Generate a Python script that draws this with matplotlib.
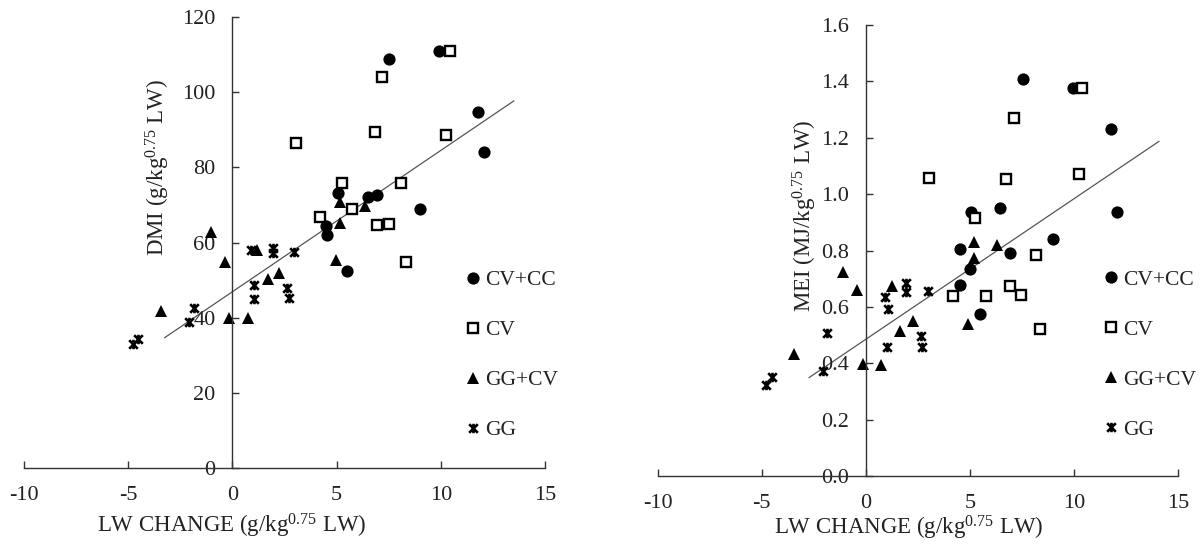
import numpy as np
import matplotlib
matplotlib.use("Agg")
import matplotlib.pyplot as plt
from matplotlib.path import Path

plt.rcParams['font.family'] = ['Liberation Serif', 'DejaVu Serif']
plt.rcParams['mathtext.fontset'] = 'custom'
plt.rcParams['mathtext.rm'] = 'Liberation Serif'
plt.rcParams['axes.unicode_minus'] = False

# ---- left panel: DMI vs LW change ----
dmi_cvcc_x = [7.5, 9.9, 11.8, 12.05, 9.0, 5.05, 6.5, 6.95, 4.55, 4.5, 5.5]
dmi_cvcc_y = [108.7, 111.0, 94.7, 84.0, 69.0, 73.2, 72.2, 72.7, 62.1, 64.3, 52.5]
dmi_cv_x = [10.45, 7.2, 6.85, 3.05, 10.25, 5.25, 8.1, 4.2, 5.75, 6.95, 7.5, 8.35]
dmi_cv_y = [111.0, 104.0, 89.3, 86.4, 88.5, 75.9, 75.9, 66.8, 68.8, 64.6, 64.9, 54.7]
dmi_ggcv_x = [-1.05, -0.35, -3.45, -0.15, 0.75, 1.2, 1.7, 2.25, 4.95, 5.15, 5.15, 6.35]
dmi_ggcv_y = [62.9, 54.9, 41.8, 39.8, 39.9, 58.0, 50.4, 51.8, 55.3, 65.2, 70.9, 69.8]
dmi_gg_x = [-4.75, -4.55, -2.1, -1.85, 0.9, 1.05, 1.05, 1.95, 1.95, 2.6, 2.7, 2.95]
dmi_gg_y = [32.9, 34.4, 38.9, 42.7, 58.0, 48.7, 44.9, 58.5, 57.3, 48.0, 45.1, 57.6]
dmi_trend = (3.76, 46.9)          # slope, intercept
dmi_trend_x = [-3.25, 13.5]

# ---- right panel: MEI vs LW change ----
mei_cvcc_x = [7.55, 9.95, 11.75, 12.05, 9.0, 6.45, 5.05, 4.5, 6.9, 5.0, 4.5, 5.5]
mei_cvcc_y = [1.41, 1.375, 1.23, 0.937, 0.841, 0.951, 0.935, 0.806, 0.792, 0.735, 0.677, 0.574]
mei_cv_x = [10.4, 7.1, 3.05, 6.75, 10.25, 5.25, 8.15, 4.2, 5.75, 6.9, 7.45, 8.35]
mei_cv_y = [1.375, 1.269, 1.056, 1.052, 1.071, 0.914, 0.783, 0.638, 0.638, 0.673, 0.641, 0.523]
mei_ggcv_x = [-1.1, -0.4, -3.45, -0.15, 0.75, 1.25, 1.65, 2.25, 4.9, 5.2, 5.2, 6.3]
mei_ggcv_y = [0.724, 0.659, 0.432, 0.399, 0.393, 0.673, 0.515, 0.55, 0.541, 0.831, 0.772, 0.819]
mei_gg_x = [-4.8, -4.5, -2.05, -1.85, 0.9, 1.05, 1.0, 1.95, 1.95, 2.65, 2.7, 3.0]
mei_gg_y = [0.322, 0.351, 0.372, 0.508, 0.636, 0.591, 0.456, 0.685, 0.653, 0.497, 0.456, 0.657]
mei_trend = (0.0499, 0.485)
mei_trend_x = [-2.72, 14.07]

series_names = ['CV+CC', 'CV', 'GG+CV', 'GG']
x_ticks = [-10, -5, 0, 5, 10, 15]

# excel style "star" marker: an X with a vertical stroke
star = Path([(-1, -1), (1, 1), (-1, 1), (1, -1), (0, -1.1), (0, 1.1)],
            [Path.MOVETO, Path.LINETO, Path.MOVETO, Path.LINETO, Path.MOVETO, Path.LINETO])

styles = [
    dict(marker='o', markersize=8.8, markerfacecolor='black', markeredgecolor='black', markeredgewidth=0),
    dict(marker='s', markersize=7.2, markerfacecolor='white', markeredgecolor='black', markeredgewidth=1.7),
    dict(marker='^', markersize=9.2, markerfacecolor='black', markeredgecolor='black', markeredgewidth=0),
    dict(marker=star, markersize=6.8, markerfacecolor='none', markeredgecolor='black', markeredgewidth=1.9),
]


def draw_panel(ax, groups, trend, trend_x, ylim, yticks, yfmt, ylabel, ylab_pos, xlab_pos, leg_pos):
    for (gx, gy), name, st in zip(groups, series_names, styles):
        ax.plot(gx, gy, linestyle='none', label=name, **st)
    tx = np.array(trend_x)
    ax.plot(tx, trend[0] * tx + trend[1], color='#555555', lw=0.9, zorder=1)

    ax.set_xlim(-10, 15)
    ax.set_ylim(*ylim)
    ax.set_xticks(x_ticks)
    ax.set_yticks(yticks)
    ax.set_yticklabels([yfmt.format(v) for v in yticks])
    ax.spines['left'].set_position(('data', 0))
    ax.spines['bottom'].set_position(('data', 0))
    ax.spines['top'].set_visible(False)
    ax.spines['right'].set_visible(False)
    for s in ('left', 'bottom'):
        ax.spines[s].set_linewidth(1.0)
        ax.spines[s].set_color('#333333')
    ax.tick_params(axis='both', direction='in', length=5, width=1.0, color='#333333',
                   labelsize=16, labelcolor='#222222')
    ax.tick_params(axis='y', pad=12)
    ax.tick_params(axis='x', pad=13)

    ax.set_ylabel(ylabel, fontsize=16.5, color='#222222', va='center', ha='center')
    ax.yaxis.set_label_coords(*ylab_pos)
    ax.set_xlabel('LW CHANGE (g/kg$\\mathregular{^{0.75}}$ LW)', fontsize=16.5, color='#222222',
                  va='center', ha='center')
    ax.xaxis.set_label_coords(*xlab_pos)

    ax.legend(loc='upper left', bbox_to_anchor=leg_pos, frameon=False, fontsize=15.5,
              handlelength=0.6, handletextpad=0.25, labelspacing=1.39, borderpad=0,
              borderaxespad=0, labelcolor='#222222')


fig = plt.figure(figsize=(12.04, 5.46), dpi=100)
ax1 = fig.add_axes([24 / 1204, 1 - 468 / 546, 521 / 1204, 451 / 546])
ax2 = fig.add_axes([657.5 / 1204, 1 - 476 / 546, 520.8 / 1204, 451 / 546])

draw_panel(ax1,
           [(dmi_cvcc_x, dmi_cvcc_y), (dmi_cv_x, dmi_cv_y), (dmi_ggcv_x, dmi_ggcv_y), (dmi_gg_x, dmi_gg_y)],
           dmi_trend, dmi_trend_x, (0, 120), [0, 20, 40, 60, 80, 100, 120], '{:.0f}',
           'DMI (g/kg$\\mathregular{^{0.75}}$ LW)', (0.257, 0.667), (0.399, -0.129), (0.849, 0.439))

draw_panel(ax2,
           [(mei_cvcc_x, mei_cvcc_y), (mei_cv_x, mei_cv_y), (mei_ggcv_x, mei_ggcv_y), (mei_gg_x, mei_gg_y)],
           mei_trend, mei_trend_x, (0, 1.6), [0, 0.2, 0.4, 0.6, 0.8, 1.0, 1.2, 1.4, 1.6], '{:.1f}',
           'MEI (MJ/kg$\\mathregular{^{0.75}}$ LW)', (0.283, 0.5765), (0.483, -0.115), (0.858, 0.457))

fig.savefig('out.png', dpi=100)
